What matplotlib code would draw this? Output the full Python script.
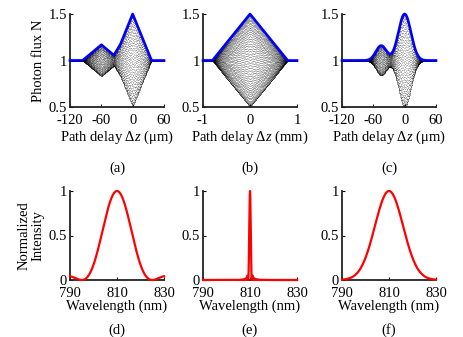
import numpy as np
import matplotlib.pyplot as plt

plt.rcParams['font.family'] = ['Liberation Serif', 'DejaVu Serif']
plt.rcParams['mathtext.fontset'] = 'custom'
plt.rcParams['mathtext.it'] = 'Liberation Serif:italic'
plt.rcParams['mathtext.rm'] = 'Liberation Serif'

# --- values ---
wavelength_um = 0.81

# (a) two triangular envelopes: centre (um), amplitude, half-width (um)
tri_centers_a = [-60, 0]
tri_amps_a = [0.17, 0.5]
tri_halfw_a = [36, 36]

# (b) single triangular envelope (mm)
tri_centers_b = [0]
tri_amps_b = [0.5]
tri_halfw_b = [0.8]

# (c) two gaussian envelopes: centre (um), amplitude, sigma (um)
gau_centers_c = [-45, 0]
gau_amps_c = [0.16, 0.5]
gau_sigma_c = [10, 12]

# spectra (nm)
spec_center = 810
sinc_zero_d = 15.0      # first zero offset of sinc^2 in (d)
sinc_zero_e = 0.8       # first zero offset of sinc^2 in (e)
gauss_sigma_f = 6.0     # sigma of gaussian in (f)

x_ticks_um = [-120, -60, 0, 60]
x_ticks_mm = [-1, 0, 1]
y_ticks_top = [0.5, 1, 1.5]
y_tick_labels_top = ['0.5', '1', '1.5']
wl_ticks = [790, 810, 830]
y_ticks_bot = [0, 0.5, 1]
y_tick_labels_bot = ['0', '0.5', '1']
panel_letters = ['(a)', '(b)', '(c)', '(d)', '(e)', '(f)']

FS_TICK = 10.5
FS_LAB = 10.5


def tri_env(z, centers, amps, halfw):
    env = np.zeros_like(z)
    for c, a, w in zip(centers, amps, halfw):
        env += a * np.clip(1 - np.abs(z - c) / w, 0, None)
    return env


def gau_env(z, centers, amps, sigmas):
    env = np.zeros_like(z)
    for c, a, s in zip(centers, amps, sigmas):
        env += a * np.exp(-(z - c) ** 2 / (2 * s ** 2))
    return env


fig = plt.figure(figsize=(4.64, 3.37), dpi=100)
W, H = 464, 337


def make_ax(x0, y0, w, h):
    ax = fig.add_axes([x0 / W, 1 - (y0 + h) / H, w / W, h / H])
    for s in ['top', 'right']:
        ax.spines[s].set_visible(False)
    for s in ['left', 'bottom']:
        ax.spines[s].set_linewidth(1.3)
        ax.spines[s].set_color('#222222')
    ax.tick_params(direction='in', length=2.5, width=0.8, labelsize=FS_TICK)
    ax.tick_params(axis='x', pad=5)
    ax.tick_params(axis='y', pad=2)
    return ax


lefts = [70, 203, 342]
top_axes = [make_ax(x, 14, 94, 93) for x in lefts]
bot_axes = [make_ax(x, 191, 94, 89) for x in lefts]

# --- top row: fringes (dots) + envelopes ---
z_a = np.linspace(-120, 60, 7919)
env_a = tri_env(z_a, tri_centers_a, tri_amps_a, tri_halfw_a)
z_b = np.linspace(-1, 1, 9973)
env_b = tri_env(z_b, tri_centers_b, tri_amps_b, tri_halfw_b)
z_c = np.linspace(-120, 60, 7919)
env_c = gau_env(z_c, gau_centers_c, gau_amps_c, gau_sigma_c)

top_data = [
    (z_a, env_a, 2 * np.pi / wavelength_um, x_ticks_um, r'Path delay Δ$z$ (μm)'),
    (z_b, env_b, 2 * np.pi / (wavelength_um * 1e-3), x_ticks_mm, r'Path delay Δ$z$ (mm)'),
    (z_c, env_c, 2 * np.pi / wavelength_um, x_ticks_um, r'Path delay Δ$z$ (μm)'),
]

for ax, (z, env, k, xt, xl) in zip(top_axes, top_data):
    ax.plot(z, 1 + env * np.cos(k * z), ls='none', marker='.', ms=0.85,
            mec='none', mfc='black', alpha=0.75)
    ax.plot(z, 1 + env, color='#0000ff', lw=1.9, clip_on=False, zorder=3)
    ax.set_xlim(xt[0], xt[-1])
    ax.set_ylim(0.5, 1.5)
    ax.set_xticks(xt)
    ax.set_xticklabels([str(t) for t in xt])
    ax.set_yticks(y_ticks_top)
    ax.set_yticklabels(y_tick_labels_top)
    ax.set_xlabel(xl, fontsize=FS_LAB, labelpad=1)

top_axes[0].set_ylabel('Photon flux N', fontsize=FS_LAB, labelpad=3)

# --- bottom row: spectra ---
wl = np.linspace(790, 830, 4000)
spec_d = np.sinc((wl - spec_center) / sinc_zero_d) ** 2
spec_e = np.sinc((wl - spec_center) / sinc_zero_e) ** 2
spec_f = np.exp(-(wl - spec_center) ** 2 / (2 * gauss_sigma_f ** 2))

for ax, spec in zip(bot_axes, [spec_d, spec_e, spec_f]):
    ax.plot(wl, spec, color='red', lw=1.6, clip_on=False, zorder=3)
    ax.set_xlim(790, 830)
    ax.set_ylim(0, 1)
    ax.set_xticks(wl_ticks)
    ax.set_yticks(y_ticks_bot)
    ax.set_yticklabels(y_tick_labels_bot)
    ax.set_xlabel('Wavelength (nm)', fontsize=FS_LAB, labelpad=0)

bot_axes[0].set_ylabel('Normalized\nIntensity', fontsize=FS_LAB, labelpad=3,
                       linespacing=1.1)

# panel letters
for i, x in enumerate(lefts):
    fig.text((x + 47) / W, 1 - 168 / H, panel_letters[i], ha='center', va='center', fontsize=FS_LAB)
    fig.text((x + 47) / W, 1 - 330 / H, panel_letters[i + 3], ha='center', va='center', fontsize=FS_LAB)

fig.savefig('out.png', dpi=100)
